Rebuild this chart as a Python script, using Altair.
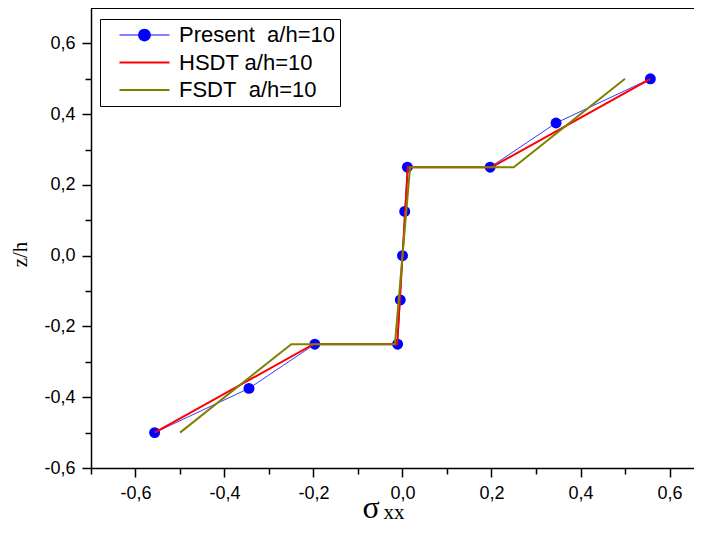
import altair as alt
import pandas as pd

# ---- data ----
present_x = [-0.557, -0.345, -0.197, -0.011, -0.005, 0.0, 0.005, 0.011, 0.197, 0.345, 0.557]
present_z = [-0.5, -0.375, -0.25, -0.25, -0.125, 0.0, 0.125, 0.25, 0.25, 0.375, 0.5]
hsdt_x = [-0.557, -0.2, -0.012, 0.012, 0.2, 0.557]
hsdt_z = [-0.5, -0.25, -0.25, 0.25, 0.25, 0.5]
fsdt_x = [-0.5, -0.25, -0.017, 0.017, 0.25, 0.5]
fsdt_z = [-0.5, -0.25, -0.25, 0.25, 0.25, 0.5]

series_names = ["Present\u00a0 a/h=10", "HSDT a/h=10", "FSDT\u00a0 a/h=10"]
series_colors = ["#0000ff", "#ff0000", "#808000"]

x_major = [-0.6, -0.4, -0.2, 0.0, 0.2, 0.4, 0.6]
x_minor = [-0.7, -0.5, -0.3, -0.1, 0.1, 0.3, 0.5]
y_major = [-0.6, -0.4, -0.2, 0.0, 0.2, 0.4, 0.6]
y_minor = [-0.5, -0.3, -0.1, 0.1, 0.3, 0.5]

W, H = 603, 460
XDOM = [-0.7, -0.7 + W / 445.0]
YDOM = [-0.6, 0.7]

present = pd.DataFrame({"x": present_x, "z": present_z, "i": range(len(present_x))})
hsdt = pd.DataFrame({"x": hsdt_x, "z": hsdt_z, "i": range(len(hsdt_x))})
fsdt = pd.DataFrame({"x": fsdt_x, "z": fsdt_z, "i": range(len(fsdt_x))})
legend_df = pd.DataFrame({"s": series_names})

label_expr = "(datum.value < -0.0001 ? '-' : '') + replace(format(abs(datum.value), '.1f'), '.', ',')"

xs = alt.Scale(domain=XDOM, nice=False, zero=False)
ys = alt.Scale(domain=YDOM, nice=False, zero=False)

axis_common = dict(grid=False, domainColor="black", domainWidth=1.5, tickColor="black",
                   tickWidth=1.5, labelColor="black", labelFont="Liberation Sans",
                   labelFontSize=18)

x_major_axis = alt.Axis(values=x_major, tickSize=9, labelExpr=label_expr, labelPadding=7,
                        orient="bottom", title="\u03c3", titleFont="Liberation Serif",
                        titleFontSize=32, titleFontWeight="normal", titleColor="black",
                        titleX=279.5, titleY=49, titleBaseline="alphabetic", titleAlign="center",
                        **axis_common)
x_minor_axis = alt.Axis(values=x_minor, tickSize=6, labels=False, orient="bottom", title=None,
                        domain=False, grid=False, tickColor="black", tickWidth=1.5)
y_major_axis = alt.Axis(values=y_major, tickSize=9, labelExpr=label_expr, labelPadding=7,
                        orient="left", title="z/h", titleFont="Liberation Serif",
                        titleFontSize=21, titleFontWeight="normal", titleColor="black",
                        titleAngle=270, titleX=-65, titleY=246, titleBaseline="alphabetic",
                        titleAlign="center", **axis_common)
y_minor_axis = alt.Axis(values=y_minor, tickSize=6, labels=False, orient="left", title=None,
                        domain=False, grid=False, tickColor="black", tickWidth=1.5)

present_line = alt.Chart(present).mark_line(color="#3a3aff", strokeWidth=1).encode(
    x=alt.X("x:Q", scale=xs, axis=x_major_axis),
    y=alt.Y("z:Q", scale=ys, axis=y_major_axis),
    order="i:Q",
)
present_pts = alt.Chart(present).mark_point(filled=True, color="#0000ff", size=120, opacity=1).encode(
    x=alt.X("x:Q", scale=xs, axis=x_minor_axis),
    y=alt.Y("z:Q", scale=ys, axis=y_minor_axis),
)
hsdt_line = alt.Chart(hsdt).mark_line(color="#ff0000", strokeWidth=2).encode(
    x=alt.X("x:Q", scale=xs, axis=None),
    y=alt.Y("z:Q", scale=ys, axis=None),
    order="i:Q",
)
fsdt_line = alt.Chart(fsdt).mark_line(color="#808000", strokeWidth=2).encode(
    x=alt.X("x:Q", scale=xs, axis=None),
    y=alt.Y("z:Q", scale=ys, axis=None),
    order="i:Q",
)

# legend symbols (units of 8.5 px, symbolSize 289)
blue_sym = ("M0.41,-0.06H2.7V0.06H0.41Z M4.0,-0.06H6.29V0.06H4.0Z "
            "M2.6,0A0.75,0.75,0,1,1,4.1,0A0.75,0.75,0,1,1,2.6,0Z")
line_sym = "M0.41,-0.12H6.29V0.12H0.41Z"

legend_props = dict(orient="none", legendX=9, legendY=11, title=None,
                    strokeColor="black", fillColor="white", padding=5,
                    symbolSize=289, symbolOpacity=1, symbolStrokeWidth=0,
                    labelFont="Liberation Sans", labelFontSize=22,
                    labelColor="black", labelOffset=52, rowPadding=5.5,
                    labelLimit=400)

legend_layer = alt.Chart(legend_df).mark_point(filled=True, size=1).encode(
    x=alt.value(-2000),
    y=alt.value(-2000),
    fill=alt.Fill("s:N", scale=alt.Scale(domain=series_names, range=series_colors),
                  legend=alt.Legend(**legend_props)),
    shape=alt.Shape("s:N", scale=alt.Scale(domain=series_names,
                                           range=[blue_sym, line_sym, line_sym]),
                    legend=alt.Legend(**legend_props)),
)

top_frame = alt.Chart(pd.DataFrame({"a": [0]})).mark_rule(color="black", strokeWidth=2).encode(
    x=alt.value(0), x2=alt.value(W), y=alt.value(0)
)
sub_xx = alt.Chart(pd.DataFrame({"a": [0]})).mark_text(
    text="xx", font="Liberation Serif", fontSize=21, align="center", baseline="alphabetic",
    color="black"
).encode(x=alt.value(394 - 91), y=alt.value(519 - 8))

chart = alt.layer(
    present_line, present_pts, hsdt_line, fsdt_line, legend_layer, top_frame, sub_xx
).resolve_axis(x="independent", y="independent").properties(
    width=W, height=H,
    autosize=alt.AutoSizeParams(type="none"),
    padding={"left": 83, "top": 0, "right": 0, "bottom": 57},
).configure_view(stroke="transparent", strokeWidth=0).configure(background="white")

chart.save("out.html", embed_options={"renderer": "svg", "actions": False})
